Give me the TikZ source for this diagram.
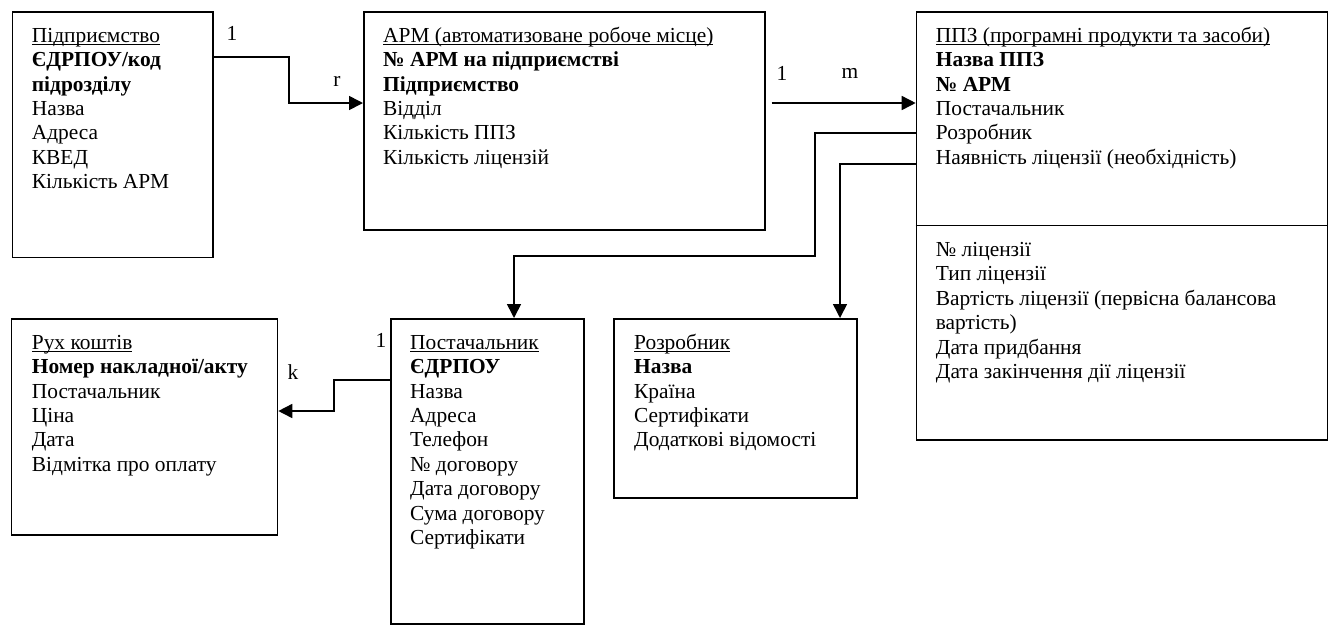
\documentclass[tikz,border=0pt]{standalone}
\usepackage{fontspec}
\setmainfont{Liberation Serif}
\usetikzlibrary{arrows.meta}
\newcommand{\uln}[1]{\setbox0=\hbox{#1}\rlap{\rule[-2.5pt]{\wd0}{1.1pt}}\box0}
\newcommand{\fl}{\rule{0pt}{17pt}}
\begin{document}
\begin{tikzpicture}[x=1pt,y=-1pt,
  box/.style={draw, line width=1.6pt, rectangle, inner sep=0pt, anchor=north west},
  txt/.style={anchor=north west, inner sep=0pt, align=left, font=\fontsize{21.4}{24.4}\selectfont},
  lbl/.style={inner sep=0pt, font=\fontsize{21.4}{24.4}\selectfont},
  arr/.style={line width=1.6pt, -{Triangle[length=14pt,width=14pt]}},
  conn/.style={line width=1.6pt}]
\useasboundingbox (0,0) rectangle (1332,625);

% boxes
\node[box, minimum width=200.5pt, minimum height=245.5pt] (b1) at (11.7,11) {};
\node[box, minimum width=401pt, minimum height=218pt] (arm) at (363,11) {};
\node[box, minimum width=411pt, minimum height=428.3pt] (ppz) at (915.7,11) {};
\node[box, minimum width=266pt, minimum height=216pt] (rux) at (10.7,318) {};
\node[box, minimum width=193pt, minimum height=305pt] (post) at (390,318) {};
\node[box, minimum width=243pt, minimum height=179pt] (rozr) at (613,318) {};
\draw[line width=1.2pt] ([yshift=-214.3pt]ppz.north west) -- ([yshift=-214.3pt]ppz.north east);

% texts
\node[txt] (b1t) at ([xshift=20pt,yshift=-14pt]b1.north west) {\fl\uln{Підприємство}\\
\textbf{ЄДРПОУ/код}\\ \textbf{підрозділу}\\ Назва\\ Адреса\\ КВЕД\\ Кількість АРМ};
\node[txt] (armt) at ([xshift=20pt,yshift=-14pt]arm.north west) {\fl\uln{АРМ (автоматизоване робоче місце)}\\
\textbf{№ АРМ на підприємстві}\\ \textbf{Підприємство}\\ Відділ\\ Кількість ППЗ\\ Кількість ліцензій};
\node[txt] (ppzt) at ([xshift=20pt,yshift=-14pt]ppz.north west) {\fl\uln{ППЗ (програмні продукти та засоби)}\\
\textbf{Назва ППЗ}\\ \textbf{№ АРМ}\\ Постачальник\\ Розробник\\ Наявність ліцензії (необхідність)};
\node[txt] (ppzl) at ([xshift=20pt,yshift=-228.3pt]ppz.north west) {\fl № ліцензії\\
Тип ліцензії\\ Вартість ліцензії (первісна балансова\\ вартість)\\ Дата придбання\\ Дата закінчення дії ліцензії};
\node[txt] (ruxt) at ([xshift=21pt,yshift=-14pt]rux.north west) {\fl\uln{Рух коштів}\\
\textbf{Номер накладної/акту}\\ Постачальник\\ Ціна\\ Дата\\ Відмітка про оплату};
\node[txt] (postt) at ([xshift=20pt,yshift=-14pt]post.north west) {\fl\uln{Постачальник}\\
\textbf{ЄДРПОУ}\\ Назва\\ Адреса\\ Телефон\\ № договору\\ Дата договору\\ Сума договору\\ Сертифікати};
\node[txt] (rozrt) at ([xshift=21pt,yshift=-14pt]rozr.north west) {\fl\uln{Розробник}\\
\textbf{Назва}\\ Країна\\ Сертифікати\\ Додаткові відомості};

% connectors
\draw[arr] ([yshift=-46pt]b1.north east) -- ++(75,0) |- ([yshift=-92pt]arm.north west);
\draw[arr] ([xshift=6pt,yshift=-92pt]arm.north east) -- ([yshift=-92pt]ppz.north west);
\draw[arr] ([yshift=-122pt]ppz.north west) -- ++(-100.7,0) -- ++(0,123) -| ([xshift=124pt]post.north west);
\draw[arr] ([yshift=-153pt]ppz.north west) -| ([xshift=227pt]rozr.north west);
\draw[arr] ([yshift=-62pt]post.north west) -- ++(-56,0) |- ([yshift=-93pt]rux.north east);

% labels
\node[lbl] (l1) at (232,33) {1};
\node[lbl] (l2) at (337,81) {r};
\node[lbl] (l3) at (782,73) {1};
\node[lbl] (l4) at (850,73) {m};
\node[lbl] (l5) at (381,340) {1};
\node[lbl] (l6) at (293,372) {k};
\end{tikzpicture}
\end{document}
